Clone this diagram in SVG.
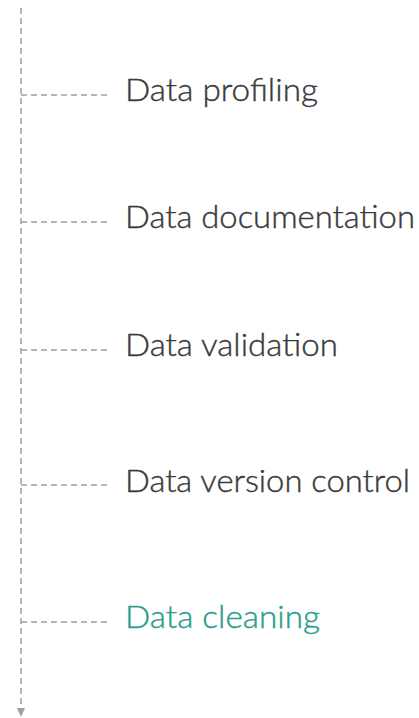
<svg xmlns="http://www.w3.org/2000/svg" width="419" height="718" viewBox="0 0 419 718">
<style>
.ln{stroke:#a0a0a0;stroke-width:1.5;stroke-dasharray:6 4;fill:none}
.t{font-family:Lato,"Noto Sans",sans-serif;font-size:32px;font-weight:300;fill:#3a3a3a;stroke:#3a3a3a;stroke-width:0.4}
.g{fill:#2a9d8a;stroke:#2a9d8a}
</style>
<rect width="419" height="718" fill="#fff"/>
<g id="connectors">
<path class="ln" d="M21,8 V708"/>
<path class="ln" d="M21,95 H110"/>
<path class="ln" d="M21,222 H110"/>
<path class="ln" d="M21,350 H110"/>
<path class="ln" d="M21,485 H110"/>
<path class="ln" d="M21,622 H110"/>
<path d="M17,708 L25,708 L21,717 Z" fill="#a0a0a0"/>
</g>
<g id="n1"><text class="t" x="125" y="101" textLength="193" lengthAdjust="spacingAndGlyphs">Data profiling</text></g>
<g id="n2"><text class="t" x="125" y="228" textLength="290" lengthAdjust="spacingAndGlyphs">Data documentation</text></g>
<g id="n3"><text class="t" x="125" y="356" textLength="213" lengthAdjust="spacingAndGlyphs">Data validation</text></g>
<g id="n4"><text class="t" x="125" y="492" textLength="285" lengthAdjust="spacingAndGlyphs">Data version control</text></g>
<g id="n5"><text class="t g" x="125" y="628" textLength="195" lengthAdjust="spacingAndGlyphs">Data cleaning</text></g>
</svg>
